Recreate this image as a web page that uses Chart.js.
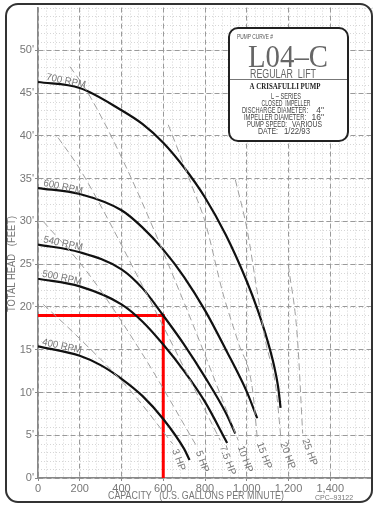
<!DOCTYPE html>
<html>
<head>
<meta charset="utf-8">
<title>Pump curve L04-C</title>
<script src="https://cdn.jsdelivr.net/npm/chart.js@4.4.0/dist/chart.umd.min.js"></script>
<style>
  html, body { margin: 0; padding: 0; background: #fff; }
  #wrap { width: 377px; height: 508px; }
</style>
</head>
<body>
<div id="wrap"><canvas id="pumpChart" width="377" height="508"></canvas></div>
<script>
// tick labels
const capacityTicks = [0, 200, 400, 600, 800, 1000, 1200, 1400];
const headTicks = [0, 5, 10, 15, 20, 25, 30, 35, 40, 45, 50];

// pump curves (capacity in gpm, head in feet)
const flow700 = [0, 200, 400, 500, 600, 700, 800, 900, 1000, 1050, 1100, 1130, 1150, 1162];
const head700 = [46.3, 45.6, 43.0, 41.4, 39.2, 36.3, 32.8, 28.4, 23.0, 19.8, 16.0, 13.2, 10.7, 8.2];
const flow600 = [0, 200, 400, 500, 600, 700, 800, 900, 1000, 1050];
const head600 = [33.9, 33.2, 31.3, 29.3, 26.7, 23.5, 19.6, 15.0, 10.1, 7.0];
const flow540 = [0, 200, 400, 500, 600, 700, 800, 900, 945];
const head540 = [27.3, 26.4, 24.4, 22.2, 19.0, 15.6, 11.8, 7.6, 5.2];
const flow500 = [0, 200, 400, 500, 600, 700, 800, 906];
const head500 = [23.3, 22.4, 20.3, 18.3, 15.6, 12.5, 8.9, 4.1];
const flow400 = [0, 200, 300, 400, 500, 600, 700, 726];
const head400 = [15.4, 14.3, 13.2, 11.6, 9.6, 6.9, 3.4, 2.1];
const rpmNames = ['700 RPM', '600 RPM', '540 RPM', '500 RPM', '400 RPM'];

// horsepower lines
const hp3Flow = [25, 170, 450, 645];
const hp3Head = [20.3, 17.0, 10.0, 4.0];
const hp5Flow = [25, 235, 500, 758];
const hp5Head = [30.0, 24.1, 14.5, 3.8];
const hp75Flow = [96, 201, 500, 873];
const hp75Head = [39.8, 36.1, 22.5, 4.4];
const hp10Flow = [153, 240, 427, 700, 959];
const hp10Head = [48.1, 45.0, 36.1, 20.5, 4.4];
const hp15Flow = [624, 743, 801, 887, 960, 1026, 1050];
const hp15Head = [41.3, 33.8, 29.9, 21.5, 15.8, 10.6, 4.8];
const hp20Flow = [945, 1002, 1050, 1090, 1140, 1163];
const hp20Head = [34.9, 29.0, 21.8, 16.0, 10.5, 4.8];
const hp25Flow = [1199, 1242, 1268];
const hp25Head = [24.9, 16.6, 5.2];
const hpNames = ['3 HP', '5 HP', '7.5 HP', '10 HP', '15 HP', '20 HP', '25 HP'];

// duty point
const dutyFlow = [0, 600, 600];
const dutyHead = [19, 19, 0];

const narrow = "'Liberation Sans Narrow', 'Liberation Sans', 'DejaVu Sans', sans-serif";
const gray = '#777';

function pts(qs, hs) {
	return qs.map((q, i) => ({ x: q, y: hs[i] }));
}

const pumpCurve = (q, h) => ({
	data: pts(q, h),
	showLine: true,
	borderColor: '#111',
	borderWidth: 2.2,
	pointRadius: 0,
	cubicInterpolationMode: 'monotone',
});
const hpLine = (q, h) => ({
	data: pts(q, h),
	showLine: true,
	borderColor: '#a0a0a0',
	borderWidth: 1,
	borderDash: [7, 4],
	pointRadius: 0,
	cubicInterpolationMode: 'monotone',
});

const hpSets = [
	hpLine(hp3Flow, hp3Head),
	hpLine(hp5Flow, hp5Head),
	hpLine(hp75Flow, hp75Head),
	hpLine(hp10Flow, hp10Head),
	hpLine(hp15Flow, hp15Head),
	hpLine(hp20Flow, hp20Head),
	hpLine(hp25Flow, hp25Head),
];
const rpmSets = [
	pumpCurve(flow700, head700),
	pumpCurve(flow600, head600),
	pumpCurve(flow540, head540),
	pumpCurve(flow500, head500),
	pumpCurve(flow400, head400),
];

// draws the dotted fine grid, labels, title block and frame
const sheetPlugin = {
	id: 'sheet',
	beforeDraw(chart) {
		const { ctx, chartArea: a, scales } = chart;
		ctx.save();
		ctx.strokeStyle = '#d6d6d6';
		ctx.lineWidth = 1;
		ctx.setLineDash([1, 2]);
		for (let q = 0; q <= 1600; q += 40) {
			const x = Math.round(scales.x.getPixelForValue(q)) + 0.5;
			ctx.beginPath(); ctx.moveTo(x, a.top); ctx.lineTo(x, a.bottom); ctx.stroke();
		}
		for (let h = 0; h <= 55; h += 1) {
			const y = Math.round(scales.y.getPixelForValue(h)) + 0.5;
			ctx.beginPath(); ctx.moveTo(a.left, y); ctx.lineTo(a.right, y); ctx.stroke();
		}
		ctx.restore();
	},
	afterDraw(chart) {
		const { ctx, scales } = chart;
		const px = (q) => scales.x.getPixelForValue(q);
		const py = (h) => scales.y.getPixelForValue(h);
		ctx.save();

		// rpm labels, sitting on their curves
		const rpmAt = [[134, 46.4], [120, 34.0], [120, 27.4], [115, 23.4], [115, 15.4]];
		ctx.fillStyle = gray;
		ctx.font = '10px ' + narrow;
		ctx.textAlign = 'center';
		ctx.textBaseline = 'middle';
		rpmNames.forEach((name, i) => {
			ctx.save();
			ctx.translate(px(rpmAt[i][0]), py(rpmAt[i][1]));
			ctx.rotate(12 * Math.PI / 180);
			ctx.fillText(name, 0, 0, 40);
			ctx.restore();
		});

		// hp labels, running on from the end of each dashed line
		ctx.textAlign = 'left';
		hpSets.forEach((set, i) => {
			const last = set.data[set.data.length - 1];
			const ang = 70 * Math.PI / 180;
			ctx.save();
			ctx.translate(px(last.x) + 6 * Math.cos(ang), py(last.y) + 6 * Math.sin(ang));
			ctx.rotate(ang);
			ctx.fillText(hpNames[i], 0, 0);
			ctx.restore();
		});

		// axis titles
		ctx.textAlign = 'center';
		ctx.font = '10.5px ' + narrow;
		ctx.fillText('CAPACITY   (U.S. GALLONS PER MINUTE)', 196, 496, 176);
		ctx.save();
		ctx.translate(12, 264);
		ctx.rotate(-Math.PI / 2);
		ctx.fillText('TOTAL HEAD   (FEET)', 0, 0, 96);
		ctx.restore();
		ctx.font = '7px ' + narrow;
		ctx.fillText('CPC\u201393122', 334, 498, 42);

		// title block
		ctx.setLineDash([]);
		ctx.fillStyle = '#fff';
		ctx.strokeStyle = '#222';
		ctx.lineWidth = 2;
		ctx.beginPath();
		ctx.roundRect(229, 28, 119, 113, 9);
		ctx.fill();
		ctx.stroke();
		ctx.lineWidth = 1;
		ctx.strokeStyle = '#777';
		ctx.beginPath(); ctx.moveTo(230, 79.5); ctx.lineTo(347, 79.5); ctx.stroke();

		ctx.fillStyle = '#555';
		ctx.textBaseline = 'alphabetic';
		ctx.textAlign = 'left';
		ctx.font = '7.5px ' + narrow;
		ctx.fillText('PUMP CURVE #', 237, 38.5, 36);
		ctx.textAlign = 'center';
		ctx.fillStyle = '#666';
		ctx.font = '31px "Liberation Serif", "DejaVu Serif", serif';
		ctx.fillText('L04\u2013C', 288, 67, 80);
		ctx.font = '12px ' + narrow;
		ctx.fillText('REGULAR  LIFT', 283, 77.5, 66);
		ctx.fillStyle = '#222';
		ctx.font = 'bold 8px "Liberation Serif", "DejaVu Serif", serif';
		ctx.fillText('A CRISAFULLI PUMP', 285, 88.5, 71);
		ctx.fillStyle = '#444';
		ctx.font = '8.5px ' + narrow;
		ctx.fillText('L \u2013 SERIES', 286, 98.5, 30);
		ctx.fillText('CLOSED  IMPELLER', 286, 105.5, 49);
		ctx.textAlign = 'left';
		ctx.fillText('DISCHARGE DIAMETER:', 242, 112.5, 66);
		ctx.fillText('IMPELLER DIAMETER:', 244, 119.5, 62);
		ctx.fillText('PUMP SPEED:', 247, 126.5, 40);
		ctx.fillText('DATE:', 258, 133.5, 20);
		ctx.textAlign = 'right';
		ctx.fillText('4"', 324, 112.5);
		ctx.fillText('16"', 324, 119.5);
		ctx.fillText('VARIOUS', 322, 126.5, 30);
		ctx.fillText('1/22/93', 310, 133.5, 26);

		// sheet frame
		ctx.strokeStyle = '#333';
		ctx.lineWidth = 2;
		ctx.beginPath();
		ctx.roundRect(6, 4, 366, 498, 12);
		ctx.stroke();
		ctx.restore();
	},
};

const config = {
	type: 'scatter',
	data: {
		datasets: [
			...hpSets,
			...rpmSets,
			{
				data: pts(dutyFlow, dutyHead),
				showLine: true,
				borderColor: '#ff0000',
				borderWidth: 3,
				pointRadius: 0,
				tension: 0,
			},
		],
	},
	options: {
		responsive: false,
		animation: false,
		events: [],
		layout: { padding: { left: 0, right: 5, top: 4, bottom: 0 } },
		plugins: { legend: { display: false }, tooltip: { enabled: false } },
		scales: {
			x: {
				type: 'linear',
				min: 0,
				max: 1600,
				afterBuildTicks: (s) => { s.ticks = capacityTicks.map((v) => ({ value: v })); },
				afterFit: (s) => { s.height = 30; },
				ticks: { color: gray, font: { family: narrow, size: 11 }, padding: 1, maxRotation: 0 },
				grid: { color: '#9a9a9a', lineWidth: 1, tickLength: 3, tickColor: '#888' },
				border: { color: '#888', width: 1.5, dash: [5, 3] },
			},
			y: {
				type: 'linear',
				min: 0,
				max: 55,
				afterBuildTicks: (s) => { s.ticks = headTicks.map((v) => ({ value: v })); },
				afterFit: (s) => { s.width = 38; },
				ticks: { color: gray, font: { family: narrow, size: 11 }, padding: 1, callback: (v) => v + "'" },
				grid: { color: '#9a9a9a', lineWidth: 1, tickLength: 3, tickColor: '#888' },
				border: { color: '#888', width: 1.5, dash: [5, 3] },
			},
		},
	},
	plugins: [sheetPlugin],
};

const pumpChart = new Chart(document.getElementById('pumpChart'), config);
</script>
</body>
</html>
